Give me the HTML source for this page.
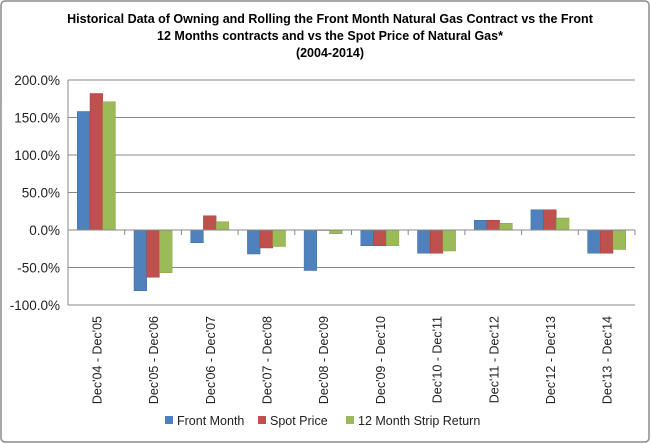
<!DOCTYPE html>
<html><head><meta charset="utf-8"><style>
body{margin:0;background:#fff;font-family:"Liberation Sans",sans-serif;}
#wrap{position:relative;width:651px;height:444px;overflow:hidden;}
</style></head><body>
<div id="wrap">
<svg id="chart" width="651" height="444" xmlns="http://www.w3.org/2000/svg">
<rect x="1" y="1" width="648" height="441" rx="4" fill="#fff" stroke="#8c8c8c" stroke-width="1.5"/>
<g font-family="Liberation Sans, sans-serif" font-weight="bold" font-size="12.5" fill="#000" text-anchor="middle">
<text x="330" y="23">Historical Data of Owning and Rolling the Front Month Natural Gas Contract vs the Front</text>
<text x="330" y="40">12 Months contracts and vs the Spot Price of Natural Gas*</text>
<text x="330" y="57">(2004-2014)</text>
</g>
<g id="grid"></g><g id="bars"></g><g id="axes"></g>
<g id="legend" font-size="12" fill="#000"></g>
</svg>
</div>
<script>
const categories=["Dec'04 - Dec'05","Dec'05 - Dec'06","Dec'06 - Dec'07","Dec'07 - Dec'08","Dec'08 - Dec'09","Dec'09 - Dec'10","Dec'10 - Dec'11","Dec'11 - Dec'12","Dec'12 - Dec'13","Dec'13 - Dec'14"];
const frontMonth=[158,-81,-17,-32,-54,-21,-31,13,27,-31];
const spotPrice=[182,-63,19,-24,0,-21,-31,13,27,-31];
const strip12=[171,-57,11,-22,-5,-21,-28,9,16,-26];
const seriesNames=["Front Month","Spot Price","12 Month Strip Return"];
const yTicks=[-100,-50,0,50,100,150,200];

const NS="http://www.w3.org/2000/svg";
const plotLeft=68,plotRight=635,plotTop=80,plotBottom=305,yMin=-100,yMax=200;
const colors=["#4f81bd","#c0504d","#9bbb59"];
const strokes=["#3c6ea8","#a8403d","#84a444"];
const yScale=v=>plotBottom-(v-yMin)/(yMax-yMin)*(plotBottom-plotTop);
const cw=(plotRight-plotLeft)/categories.length;
const xScale=i=>plotLeft+i*cw;
function mk(tag,attrs,parent){const e=document.createElementNS(NS,tag);for(const k in attrs)e.setAttribute(k,attrs[k]);parent.appendChild(e);return e;}
const grid=document.getElementById('grid'),bars=document.getElementById('bars'),axes=document.getElementById('axes'),legend=document.getElementById('legend');
yTicks.forEach(t=>{
  const l=mk('line',{x1:plotLeft,x2:plotRight,y1:yScale(t),y2:yScale(t),stroke:"#888",'stroke-width':1},grid);
  
  
  const tx=mk('text',{x:plotLeft-8,y:yScale(t)+5,'text-anchor':'end','font-size':13.5,fill:'#222'},axes);
  tx.textContent=t.toFixed(1)+"%";
  
  
});
const ya=mk('line',{x1:plotLeft,x2:plotLeft,y1:plotTop,y2:plotBottom,stroke:"#888"},axes);


const series=[frontMonth,spotPrice,strip12];
const bw=12.7;
categories.forEach((c,i)=>{
  const gx=xScale(i)+(cw-3*bw)/2;
  series.forEach((s,j)=>{
    const v=s[i];const y0=yScale(0),y1=yScale(v);
    const r=mk('rect',{x:gx+j*bw,y:Math.min(y0,y1),width:bw,height:Math.max(0.5,Math.abs(y1-y0)),fill:colors[j],stroke:strokes[j],'stroke-width':0.5},bars);
    
    
  });
  const tk=mk('line',{x1:xScale(i+1),x2:xScale(i+1),y1:yScale(0),y2:yScale(0)+5,stroke:"#888"},axes);
  
  
  const cx=xScale(i)+cw/2+5;
  const lt=mk('text',{x:cx,y:316,'text-anchor':'end','font-size':12.5,fill:'#222',transform:`rotate(-90 ${cx} 316)`},axes);
  lt.textContent=c;
  
  
});
const xa=mk('line',{x1:plotLeft,x2:plotRight,y1:yScale(0),y2:yScale(0),stroke:"#888"},axes);


const lx=[165,258,346];
seriesNames.forEach((n,j)=>{
  const r=mk('rect',{x:lx[j],y:416,width:8,height:8,fill:colors[j]},legend);
  
  
  const t=mk('text',{x:lx[j]+12,y:425,'font-size':12.5,fill:'#222'},legend);
  t.textContent=n;
  
  
});
</script>
</body></html>
